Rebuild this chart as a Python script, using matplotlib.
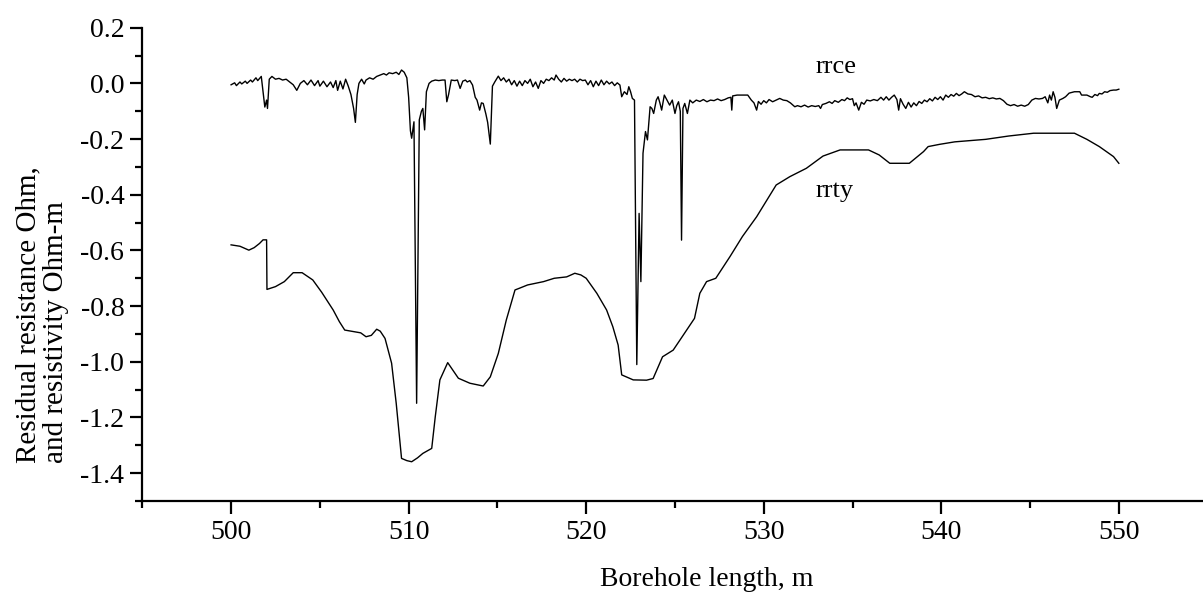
import matplotlib
matplotlib.use('Agg')
import matplotlib.pyplot as plt
import numpy as np
from matplotlib.ticker import MultipleLocator, FormatStrFormatter

plt.rcParams['font.family'] = ['Liberation Serif', 'DejaVu Serif']
plt.rcParams['axes.unicode_minus'] = False

# rrce: residual resistance (noisy upper trace)
rrce_x = [500.0, 500.2, 500.3, 500.5, 500.6, 500.8, 500.9, 501.1, 501.2, 501.4,
          501.5, 501.7, 501.8, 501.9, 502.0, 502.05, 502.15, 502.3, 502.5, 502.7,
          502.9, 503.1, 503.3, 503.5, 503.7, 503.9, 504.1, 504.3, 504.5, 504.7,
          504.9, 505.0, 505.2, 505.4, 505.6, 505.75, 505.9, 506.0, 506.15, 506.3,
          506.45, 506.6, 506.75, 506.9, 507.0, 507.1, 507.2, 507.35, 507.5, 507.6,
          507.8, 508.0, 508.2, 508.4, 508.6, 508.75, 508.9, 509.1, 509.3, 509.45,
          509.6, 509.75, 509.9, 510.0, 510.1, 510.17, 510.3, 510.45, 510.6, 510.72,
          510.8, 510.9, 511.0, 511.15, 511.3, 511.5, 511.7, 511.9, 512.05, 512.15,
          512.25, 512.4, 512.6, 512.75, 512.9, 513.05, 513.2, 513.3, 513.45, 513.6,
          513.75, 513.85, 514.0, 514.1, 514.2, 514.35, 514.45, 514.6, 514.72, 514.85,
          515.05, 515.2, 515.35, 515.5, 515.65, 515.8, 515.95, 516.1, 516.25, 516.4,
          516.55, 516.7, 516.85, 517.0, 517.15, 517.3, 517.45, 517.6, 517.75, 517.9,
          518.05, 518.2, 518.3, 518.45, 518.6, 518.75, 518.9, 519.05, 519.2, 519.35,
          519.5, 519.65, 519.8, 519.95, 520.1, 520.25, 520.4, 520.55, 520.7, 520.85,
          521.0, 521.15, 521.3, 521.45, 521.6, 521.75, 521.9, 522.0, 522.15, 522.3,
          522.4, 522.5, 522.6, 522.72, 522.85, 522.98, 523.08, 523.2, 523.34, 523.45,
          523.6, 523.7, 523.8, 523.95, 524.05, 524.15, 524.25, 524.4, 524.55, 524.7,
          524.85, 525.0, 525.1, 525.2, 525.3, 525.37, 525.45, 525.55, 525.7, 525.84,
          526.0, 526.2, 526.4, 526.6, 526.8, 527.0, 527.2, 527.4, 527.6, 527.8,
          528.0, 528.15, 528.2, 528.25, 528.5, 528.8, 529.1, 529.3, 529.45, 529.6,
          529.7, 529.85, 530.0, 530.15, 530.3, 530.5, 530.7, 530.9, 531.1, 531.3,
          531.5, 531.75, 531.9, 532.1, 532.3, 532.5, 532.7, 532.9, 533.1, 533.2,
          533.3, 533.5, 533.7, 533.85, 534.0, 534.2, 534.4, 534.55, 534.7, 534.85,
          535.0, 535.1, 535.2, 535.35, 535.5, 535.65, 535.8, 536.0, 536.2, 536.4,
          536.6, 536.75, 536.9, 537.05, 537.2, 537.35, 537.5, 537.6, 537.7, 537.85,
          538.0, 538.15, 538.3, 538.45, 538.6, 538.75, 538.9, 539.05, 539.2, 539.35,
          539.5, 539.65, 539.8, 539.95, 540.1, 540.25, 540.4, 540.55, 540.7, 540.85,
          541.0, 541.15, 541.3, 541.5, 541.7, 541.9, 542.1, 542.3, 542.5, 542.7,
          542.9, 543.1, 543.3, 543.5, 543.7, 543.9, 544.1, 544.3, 544.5, 544.7,
          544.9, 545.1, 545.3, 545.5, 545.7, 545.85, 546.0, 546.1, 546.2, 546.3,
          546.4, 546.5, 546.65, 546.85, 547.0, 547.2, 547.5, 547.8, 547.9, 548.2,
          548.4, 548.5, 548.65, 548.8, 548.9, 549.05, 549.2, 549.35, 549.5, 549.7,
          549.85, 550.0]
rrce_y = [-0.005, 0.002, -0.008, 0.005, -0.002, 0.008, 0.000, 0.012, 0.005, 0.020,
          0.010, 0.025, -0.030, -0.085, -0.060, -0.090, 0.015, 0.025, 0.015, 0.018,
          0.012, 0.015, 0.005, -0.005, -0.025, 0.000, 0.010, -0.005, 0.012, -0.008,
          0.010, -0.010, 0.008, -0.012, 0.005, -0.015, 0.010, -0.025, 0.008, -0.020,
          0.015, -0.010, -0.040, -0.090, -0.140, -0.040, 0.000, 0.015, -0.002, 0.012,
          0.020, 0.015, 0.025, 0.030, 0.035, 0.030, 0.038, 0.035, 0.040, 0.032,
          0.048, 0.040, 0.020, -0.050, -0.170, -0.197, -0.138, -1.149, -0.131, -0.100,
          -0.090, -0.167, -0.030, 0.000, 0.008, 0.012, 0.010, 0.012, 0.012, -0.066,
          -0.040, 0.012, 0.010, 0.012, -0.018, 0.008, 0.012, 0.005, 0.010, -0.006,
          -0.050, -0.060, -0.096, -0.070, -0.072, -0.110, -0.140, -0.218, -0.010, 0.005,
          0.026, 0.010, 0.020, 0.005, 0.015, -0.005, 0.010, -0.010, 0.008, -0.008,
          0.010, 0.000, 0.015, -0.012, 0.005, -0.018, 0.010, 0.000, 0.015, 0.010,
          0.020, 0.012, 0.030, 0.015, 0.005, 0.018, 0.008, 0.015, 0.010, 0.015,
          0.005, 0.015, 0.010, 0.012, -0.005, 0.010, -0.012, 0.008, -0.008, 0.012,
          -0.005, 0.008, -0.002, 0.005, -0.008, 0.002, -0.006, -0.048, -0.030, -0.040,
          -0.012, -0.030, -0.054, -0.060, -1.010, -0.467, -0.712, -0.251, -0.173, -0.203,
          -0.084, -0.090, -0.108, -0.060, -0.048, -0.070, -0.096, -0.042, -0.060, -0.078,
          -0.060, -0.108, -0.080, -0.066, -0.100, -0.563, -0.090, -0.072, -0.108, -0.060,
          -0.070, -0.060, -0.065, -0.058, -0.066, -0.060, -0.062, -0.056, -0.062, -0.058,
          -0.052, -0.050, -0.096, -0.045, -0.042, -0.042, -0.042, -0.060, -0.070, -0.096,
          -0.065, -0.075, -0.062, -0.070, -0.058, -0.066, -0.060, -0.054, -0.060, -0.062,
          -0.070, -0.084, -0.080, -0.084, -0.078, -0.085, -0.080, -0.083, -0.080, -0.090,
          -0.076, -0.072, -0.066, -0.072, -0.062, -0.068, -0.058, -0.062, -0.052, -0.058,
          -0.055, -0.080, -0.070, -0.096, -0.068, -0.075, -0.060, -0.063, -0.058, -0.062,
          -0.050, -0.060, -0.048, -0.060, -0.050, -0.042, -0.058, -0.096, -0.055, -0.075,
          -0.090, -0.068, -0.085, -0.070, -0.080, -0.065, -0.072, -0.060, -0.066, -0.055,
          -0.063, -0.050, -0.058, -0.048, -0.060, -0.042, -0.050, -0.040, -0.046, -0.036,
          -0.044, -0.038, -0.030, -0.038, -0.040, -0.048, -0.045, -0.052, -0.050, -0.055,
          -0.052, -0.056, -0.054, -0.062, -0.075, -0.080, -0.076, -0.082, -0.078, -0.082,
          -0.076, -0.060, -0.054, -0.056, -0.054, -0.048, -0.070, -0.042, -0.060, -0.030,
          -0.050, -0.090, -0.060, -0.054, -0.048, -0.035, -0.030, -0.030, -0.042, -0.042,
          -0.048, -0.050, -0.040, -0.044, -0.036, -0.038, -0.030, -0.032, -0.026, -0.024,
          -0.024, -0.021]

# rrty: residual resistivity (stepped lower trace)
rrty_x = [500.0, 500.5, 501.0, 501.3, 501.6, 501.8, 502.0, 502.02, 502.5, 503.0,
          503.5, 504.0, 504.6, 505.1, 505.75, 506.1, 506.4, 507.3, 507.6, 507.9,
          508.2, 508.4, 508.67, 509.04, 509.3, 509.6, 509.9, 510.17, 510.5, 510.8,
          511.3, 511.5, 511.76, 512.2, 512.8, 513.45, 514.2, 514.6, 515.05, 515.5,
          515.99, 516.27, 516.7, 517.6, 518.2, 518.9, 519.36, 519.7, 520.0, 520.6,
          521.15, 521.5, 521.8, 522.0, 522.65, 523.4, 523.77, 524.3, 524.9, 525.28,
          526.1, 526.4, 526.78, 527.3, 528.1, 528.8, 529.6, 530.7, 531.47, 532.4,
          533.34, 534.3, 535.9, 536.5, 537.1, 538.2, 539.0, 539.26, 539.9, 540.76,
          542.5, 543.8, 545.2, 547.5, 548.2, 548.9, 549.7, 550.0]
rrty_y = [-0.580, -0.585, -0.599, -0.590, -0.575, -0.562, -0.562, -0.740, -0.730, -0.712,
          -0.680, -0.680, -0.706, -0.750, -0.814, -0.856, -0.886, -0.896, -0.910, -0.905,
          -0.883, -0.890, -0.916, -1.005, -1.149, -1.347, -1.355, -1.359, -1.345, -1.329,
          -1.311, -1.197, -1.065, -1.003, -1.059, -1.077, -1.087, -1.054, -0.970, -0.850,
          -0.742, -0.735, -0.724, -0.712, -0.700, -0.695, -0.682, -0.688, -0.700, -0.754,
          -0.814, -0.874, -0.940, -1.047, -1.065, -1.066, -1.060, -0.982, -0.958, -0.922,
          -0.844, -0.754, -0.712, -0.700, -0.622, -0.550, -0.479, -0.365, -0.335, -0.305,
          -0.261, -0.239, -0.239, -0.257, -0.287, -0.287, -0.245, -0.227, -0.219, -0.210,
          -0.201, -0.189, -0.179, -0.179, -0.201, -0.227, -0.263, -0.287]

fig = plt.figure(figsize=(12.03, 5.97), dpi=100)
ax = fig.add_axes([0.1183, 0.1608, 0.8817, 0.7928])

ax.plot(rrce_x, rrce_y, color='black', lw=1.0)
ax.plot(rrty_x, rrty_y, color='black', lw=1.0)

ax.text(532.9, 0.036, 'rrce', fontsize=19, va='baseline', ha='left')
ax.text(532.9, -0.407, 'rrty', fontsize=19, va='baseline', ha='left')

ax.set_xlim(495, 554.74)
ax.set_ylim(-1.5, 0.2)

for s in ['top', 'right']:
    ax.spines[s].set_visible(False)
for s in ['left', 'bottom']:
    ax.spines[s].set_linewidth(1.6)

ax.xaxis.set_major_locator(MultipleLocator(10))
ax.xaxis.set_minor_locator(MultipleLocator(5))
ax.yaxis.set_major_locator(MultipleLocator(0.2))
ax.yaxis.set_minor_locator(MultipleLocator(0.1))
ax.yaxis.set_major_formatter(FormatStrFormatter('%.1f'))

ax.tick_params(which='major', direction='out', length=9, width=1.6, labelsize=20)
ax.tick_params(which='minor', direction='out', length=5, width=1.6)
ax.tick_params(axis='y', which='major', pad=4)
ax.tick_params(axis='x', which='major', pad=5)

ax.set_xlabel('Borehole length, m', fontsize=20)
ax.xaxis.set_label_coords(0.532, -0.14)

fig.text(42 / 1203, 1 - 315 / 597, 'Residual resistance Ohm,\nand resistivity Ohm-m',
         rotation=90, ha='center', va='center', multialignment='left',
         fontsize=21, linespacing=1.1)

fig.savefig('out.png', dpi=100)
